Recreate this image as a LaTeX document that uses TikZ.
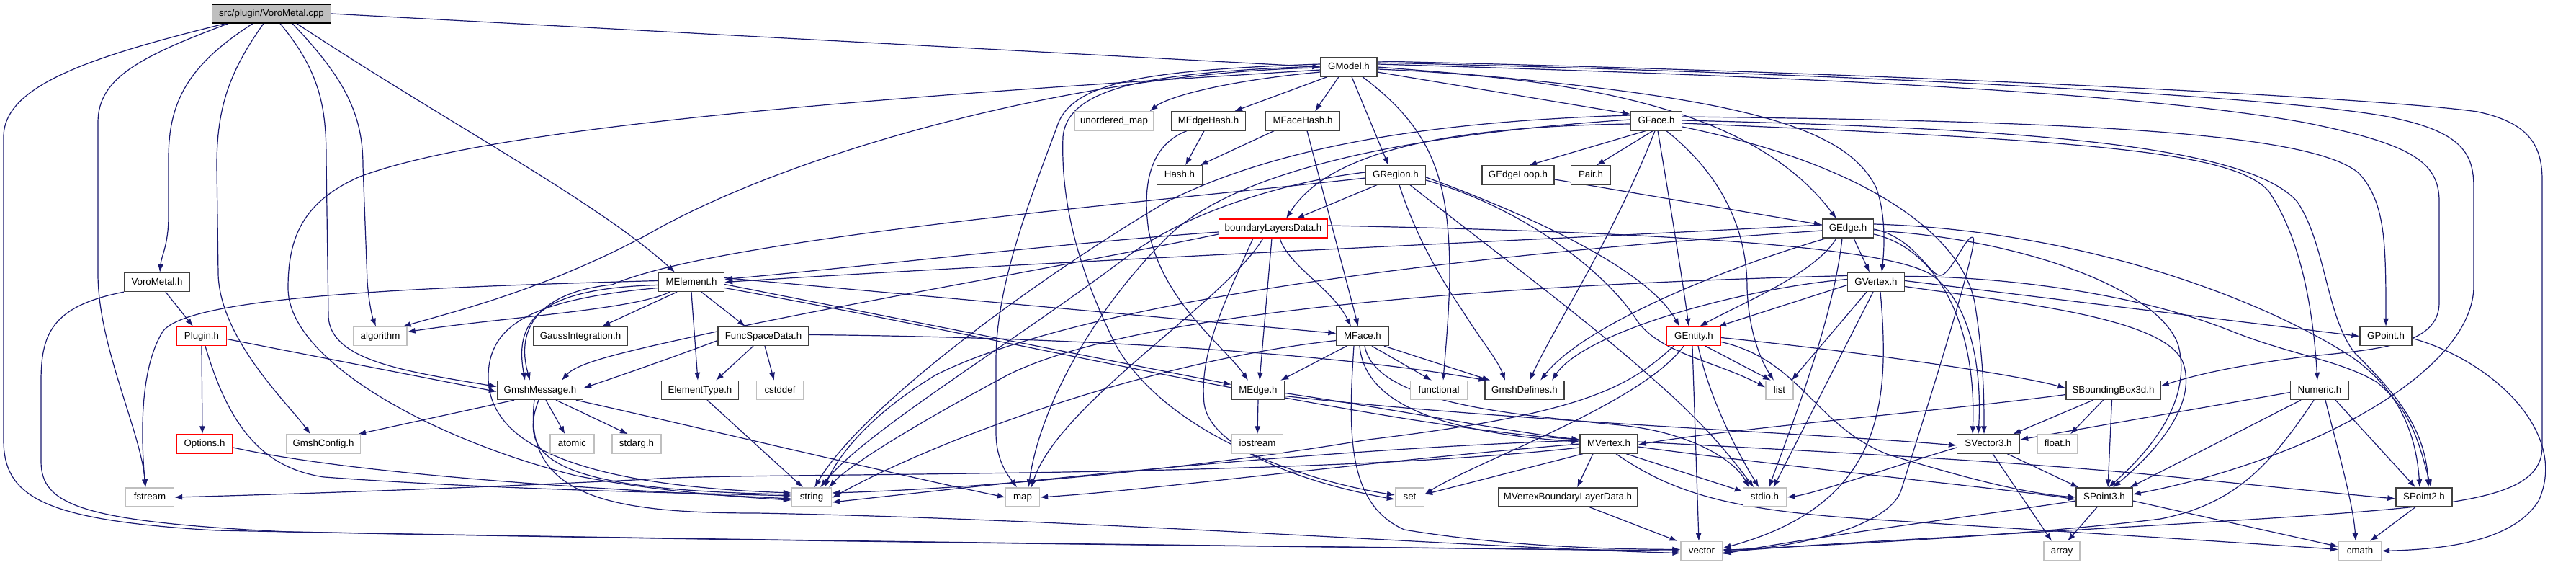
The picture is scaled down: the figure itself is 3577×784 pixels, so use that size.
\documentclass[tikz,border=0pt]{standalone}
\usepackage{fontspec}
\setmainfont{Liberation Sans}
\usetikzlibrary{arrows.meta}
\pgfdeclarelayer{bglayer}
\pgfdeclarelayer{edgelayer}
\pgfsetlayers{bglayer,edgelayer,main}
\definecolor{edgeblue}{HTML}{191970}
\definecolor{boxgray}{HTML}{BFBFBF}
\definecolor{boxdark}{HTML}{404040}
\newcommand{\Nd}[6]{\node[#1,minimum width=#5pt] (#2) at (#3,#4) {#6};}
\begin{document}
\begin{tikzpicture}[x=1pt,y=-1pt,
  box/.style={draw=boxdark,line width=1.3pt,fill=white,inner sep=0pt,minimum height=26pt,text height=9.8pt,text depth=2.8pt,font=\fontsize{13.3pt}{15pt}\selectfont},
  nb/.style={box},
  ng/.style={box,draw=boxgray},
  nr/.style={box,draw=red},
  root/.style={box,fill=boxgray,draw=black},
  dep/.style={draw=edgeblue,line width=1.2pt,-{Latex[length=11pt,width=8pt]}}]
\useasboundingbox (0,0) rectangle (3577,784);
\begin{pgfonlayer}{bglayer}
\fill[white] (0,0) rectangle (3577,784);
\end{pgfonlayer}
% nodes
\Nd{root}{cpp}{377}{19}{165}{src/plugin/VoroMetal.cpp}
\Nd{nb}{GModel}{1873}{93}{78}{GModel.h}
\Nd{ng}{unmap}{1547}{168}{110}{unordered\_map}
\Nd{nb}{MEdgeHash}{1678}{168}{103}{MEdgeHash.h}
\Nd{nb}{MFaceHash}{1809}{168}{103}{MFaceHash.h}
\Nd{nb}{GFace}{2300}{168}{71}{GFace.h}
\Nd{nb}{Hash}{1638}{243}{63}{Hash.h}
\Nd{nb}{GRegion}{1938}{243}{83}{GRegion.h}
\Nd{nb}{GEdgeLoop}{2108}{243}{100}{GEdgeLoop.h}
\Nd{nb}{Pair}{2209}{243}{55}{Pair.h}
\Nd{nr}{bld}{1768}{317}{151}{boundaryLayersData.h}
\Nd{nb}{GEdge}{2566}{317}{71}{GEdge.h}
\Nd{nb}{VMh}{218}{391.5}{91}{VoroMetal.h}
\Nd{nb}{MElement}{960}{391.5}{91}{MElement.h}
\Nd{nb}{GVertex}{2605}{391.5}{79}{GVertex.h}
\Nd{nr}{Plugin}{280}{466.5}{69}{Plugin.h}
\Nd{ng}{algorithm}{528}{466.5}{74}{algorithm}
\Nd{nb}{Gauss}{806}{466.5}{131}{GaussIntegration.h}
\Nd{nb}{FuncSpace}{1060}{466.5}{126}{FuncSpaceData.h}
\Nd{nb}{MFace}{1892}{466.5}{72}{MFace.h}
\Nd{nr}{GEntity}{2352}{466.5}{75}{GEntity.h}
\Nd{nb}{GPoint}{3313}{466.5}{72}{GPoint.h}
\Nd{nb}{GmshMessage}{750}{541.5}{119}{GmshMessage.h}
\Nd{nb}{ElementType}{972}{541.5}{107}{ElementType.h}
\Nd{ng}{cstddef}{1083}{541.5}{65}{cstddef}
\Nd{nb}{MEdge}{1747}{541.5}{73}{MEdge.h}
\Nd{ng}{functional}{1998}{541.5}{79}{functional}
\Nd{nb}{GmshDefines}{2117}{541.5}{110}{GmshDefines.h}
\Nd{ng}{list}{2471}{541.5}{38}{list}
\Nd{nb}{SBB}{2934.5}{541.5}{131}{SBoundingBox3d.h}
\Nd{nb}{Numeric}{3221}{541.5}{81}{Numeric.h}
\Nd{nr}{Options}{284}{616}{78}{Options.h}
\Nd{ng}{GmshConfig}{449}{616}{103}{GmshConfig.h}
\Nd{ng}{atomic}{794.5}{616}{61}{atomic}
\Nd{ng}{stdarg}{884}{616}{68}{stdarg.h}
\Nd{ng}{iostream}{1746}{616}{71}{iostream}
\Nd{nb}{MVertex}{2234}{616}{80}{MVertex.h}
\Nd{nb}{SVector3}{2761}{616}{87}{SVector3.h}
\Nd{ng}{float}{2857}{616}{56}{float.h}
\Nd{ng}{fstream}{208}{690}{67}{fstream}
\Nd{ng}{string}{1127}{690}{55}{string}
\Nd{ng}{map}{1420}{690}{47}{map}
\Nd{ng}{set}{1957.5}{690}{40}{set}
\Nd{nb}{MVBLD}{2177}{690}{193}{MVertexBoundaryLayerData.h}
\Nd{ng}{stdio}{2450.5}{690}{60}{stdio.h}
\Nd{nb}{SPoint3}{2922}{690}{78}{SPoint3.h}
\Nd{nb}{SPoint2}{3366}{690}{78}{SPoint2.h}
\Nd{ng}{vector}{2363}{764.5}{58}{vector}
\Nd{ng}{array}{2863}{764.5}{50}{array}
\Nd{ng}{cmath}{3277}{764.5}{59}{cmath}
\begin{pgfonlayer}{edgelayer}
% cpp
\draw[dep] (cpp.east) -- (GModel.west);
\draw[dep] ([xshift=-64pt]cpp.south) .. controls (120,80) and (5,120) .. (5,190) -- (5,610) .. controls (5,690) and (60,722) .. (300,736) .. controls (1100,752) and (2000,760) .. (vector.west);
\draw[dep] ([xshift=-60pt]cpp.south) .. controls (190,80) and (136,110) .. (136,170) -- (136,380) .. controls (136,480) and (196,600) .. ([xshift=-6pt]fstream.north);
\draw[dep] ([xshift=-26pt]cpp.south) .. controls (262,90) and (234,140) .. (234,220) -- (234,300) .. controls (234,340) and (224,355) .. ([xshift=4pt]VMh.north);
\draw[dep] ([xshift=-11pt]cpp.south) .. controls (318,100) and (301,150) .. (301,230) -- (303,380) .. controls (305,470) and (400,560) .. ([xshift=-18pt]GmshConfig.north);
\draw[dep] ([xshift=12pt]cpp.south) .. controls (445,100) and (453,150) .. (453,220) -- (456,440) .. controls (460,500) and (560,515) .. ([yshift=5pt]GmshMessage.west);
\draw[dep] ([xshift=29pt]cpp.south) .. controls (480,110) and (504,160) .. (504,230) -- (510,390) .. controls (512,420) and (517,440) .. ([xshift=-6pt]algorithm.north);
\draw[dep] ([xshift=35pt]cpp.south) .. controls (620,170) and (830,280) .. ([xshift=-23pt]MElement.north);
% VoroMetal.h
\draw[dep] ([xshift=12pt]VMh.south) -- ([xshift=-12pt]Plugin.north);
\draw[dep] (VMh.south west) .. controls (70,425) and (57,465) .. (57,530) -- (57,640) .. controls (57,700) and (110,724) .. (400,738) .. controls (1200,754) and (2000,760) .. (vector.west);
% Plugin, Options
\draw[dep] (Plugin.south) -- ([xshift=-3pt]Options.north);
\draw[dep] ([yshift=-4pt]Plugin.east) -- ([yshift=-2pt]GmshMessage.west);
\draw[dep] ([xshift=5pt]Plugin.south) .. controls (320,600) and (370,650) .. (450,662) .. controls (700,680) and (950,684) .. ([yshift=2pt]string.west);
\draw[dep] ([yshift=-5pt]Options.east) .. controls (500,660) and (850,680) .. ([yshift=-2pt]string.west);
% GmshMessage
\draw[dep] ([xshift=-36pt]GmshMessage.south) -- ([xshift=-4pt]GmshConfig.north east);
\draw[dep] ([xshift=8pt]GmshMessage.south) -- ([xshift=-10pt]atomic.north);
\draw[dep] ([xshift=22pt]GmshMessage.south) -- ([xshift=-12pt]stdarg.north);
\draw[dep] ([xshift=50pt]GmshMessage.south) .. controls (1000,600) and (1250,660) .. (map.west);
\draw[dep] ([xshift=-2pt]GmshMessage.south) .. controls (715,640) and (780,680) .. ([yshift=4pt]string.west);
\draw[dep] ([xshift=-8pt]GmshMessage.south) .. controls (725,690) and (850,712) .. (1050,712) .. controls (1500,720) and (2050,760) .. ([yshift=-3pt]vector.west);
% MElement
\draw[dep] ([yshift=2pt]MElement.west) .. controls (600,398) and (262,410) .. (226,460) .. controls (195,510) and (195,600) .. ([xshift=-6pt]fstream.north);
\draw[dep] ([yshift=-4pt]MElement.west) .. controls (740,400) and (715,450) .. ([xshift=-21pt]GmshMessage.north);
\draw[dep] ([xshift=-30pt]MElement.south) .. controls (880,430) and (700,440) .. ([yshift=6pt]algorithm.east);
\draw[dep] ([xshift=-20pt]MElement.south) -- ([xshift=30pt]Gauss.north);
\draw[dep] ([xshift=14pt]MElement.south) -- ([xshift=-25pt]FuncSpace.north);
\draw[dep] (MElement.south) -- ([xshift=-3pt]ElementType.north);
\draw[dep] ([yshift=6pt]MElement.east) -- ([yshift=4pt]MFace.west);
\draw[dep] ([yshift=-3pt]MElement.east) -- ([yshift=8pt]MEdge.west);
\draw[dep] ([yshift=-8pt]MElement.east) .. controls (1400,470) and (1900,590) .. ([yshift=6pt]MVertex.west);
\draw[dep] ([yshift=-8pt]MElement.west) .. controls (740,415) and (680,450) .. (678,520) .. controls (676,600) and (760,672) .. ([yshift=6pt]string.west);
% GModel
\draw[dep] ([yshift=-7pt]GModel.west) .. controls (1700,112) and (1620,135) .. ([xshift=-6pt]unmap.north east);
\draw[dep] ([xshift=-30pt]GModel.south) -- ([xshift=36pt]MEdgeHash.north);
\draw[dep] ([xshift=-14pt]GModel.south) -- ([xshift=17pt]MFaceHash.north);
\draw[dep] ([xshift=4pt]GModel.south) -- ([xshift=-10pt]GRegion.north);
\draw[dep] ([xshift=19pt]GModel.south) .. controls (1990,180) and (2013,250) .. (2013,384) .. controls (2012,440) and (2006,500) .. ([xshift=6pt]functional.north);
\draw[dep] ([yshift=-7pt]GModel.east) -- ([yshift=-4pt]GFace.north west);
\draw[dep] ([yshift=-3pt]GModel.east) .. controls (2250,110) and (2450,170) .. ([xshift=-16pt]GEdge.north);
\draw[dep] (GModel.east) .. controls (2400,130) and (2560,170) .. (2605,260) .. controls (2620,300) and (2616,350) .. ([xshift=8pt]GVertex.north);
\draw[dep] ([yshift=8pt]GModel.east) .. controls (2600,100) and (3300,135) .. (3440,155) .. controls (3510,170) and (3530,200) .. (3530,250) -- (3530,620) .. controls (3530,690) and (3420,700) .. (3200,716) .. controls (2900,736) and (2500,755) .. ([yshift=-2pt]vector.east);
\draw[dep] ([yshift=6pt]GModel.east) .. controls (2700,105) and (3230,140) .. (3330,165) .. controls (3420,185) and (3435,215) .. (3435,260) -- (3435,400) .. controls (3430,520) and (3200,640) .. ([yshift=4pt]SPoint3.east);
\draw[dep] ([yshift=4pt]GModel.east) .. controls (2450,105) and (2950,125) .. (3200,170) .. controls (3350,200) and (3387,225) .. (3387,280) -- (3387,420) .. controls (3387,480) and (3300,485) .. (3200,495) .. controls (3100,508) and (3050,520) .. ([yshift=6pt]SBB.east);
\draw[dep] ([yshift=4pt]GModel.west) .. controls (1600,97) and (1488,112) .. (1468,175) .. controls (1425,290) and (1383,400) .. (1383,500) -- (1383,600) .. controls (1383,640) and (1400,660) .. ([xshift=-8pt]map.north);
\draw[dep] ([yshift=1pt]GModel.west) .. controls (1600,100) and (1482,120) .. (1476,190) .. controls (1472,300) and (1510,400) .. (1550,480) .. controls (1620,600) and (1800,665) .. ([yshift=3pt]set.west);
\draw[dep] ([yshift=-1pt]GModel.west) .. controls (1500,100) and (1100,210) .. (900,325) .. controls (760,400) and (640,430) .. ([xshift=-6pt]algorithm.north east);
\draw[dep] ([yshift=-4pt]GModel.west) .. controls (1300,130) and (700,170) .. (500,245) .. controls (420,280) and (400,330) .. (400,400) .. controls (400,500) and (600,610) .. (800,660) .. controls (900,680) and (1000,688) .. ([yshift=-4pt]string.west);
% hashes
\draw[dep] ([xshift=-6pt]MEdgeHash.south) -- ([xshift=8pt]Hash.north);
\draw[dep] ([xshift=-30pt]MEdgeHash.south) .. controls (1600,200) and (1585,250) .. (1595,320) .. controls (1615,420) and (1700,480) .. ([xshift=-14pt]MEdge.north);
\draw[dep] ([xshift=-40pt]MFaceHash.south) -- ([xshift=-4pt]Hash.north east);
\draw[dep] ([xshift=6pt]MFaceHash.south) -- ([xshift=-6pt]MFace.north);
% GFace
\draw[dep] ([xshift=-15pt]GFace.south) -- ([xshift=15pt]GEdgeLoop.north);
\draw[dep] ([xshift=-5pt]GFace.south) -- ([xshift=8pt]Pair.north);
\draw[dep] ([xshift=-2pt]GFace.south) .. controls (2240,330) and (2160,450) .. ([xshift=7pt]GmshDefines.north);
\draw[dep] ([xshift=2pt]GFace.south) .. controls (2322,300) and (2338,400) .. ([xshift=-7pt]GEntity.north);
\draw[dep] ([xshift=14pt]GFace.south) .. controls (2400,250) and (2426,330) .. (2426,400) .. controls (2428,460) and (2445,500) .. ([xshift=-8pt]list.north);
\draw[dep] ([yshift=-4pt]GFace.west) .. controls (2050,175) and (1850,200) .. ([xshift=18pt]bld.north);
\draw[dep] ([yshift=6pt]GFace.east) .. controls (2900,168) and (3210,185) .. (3275,240) .. controls (3313,280) and (3313,340) .. (GPoint.north);
\draw[dep] ([yshift=1pt]GFace.east) .. controls (2800,178) and (3120,200) .. (3190,280) .. controls (3230,340) and (3230,440) .. (3270,490) .. controls (3320,540) and (3368,590) .. ([xshift=6pt]SPoint2.north);
\draw[dep] ([yshift=-3pt]GFace.east) .. controls (2900,195) and (3100,210) .. (3150,265) .. controls (3195,330) and (3212,430) .. ([xshift=-3pt]Numeric.north);
\draw[dep] ([yshift=8pt]GFace.west) .. controls (2000,168) and (1780,200) .. (1620,280) .. controls (1450,380) and (1200,560) .. ([xshift=4pt]string.north);
\draw[dep] ([yshift=-8pt]GFace.east) .. controls (2600,230) and (2725,330) .. (2742,420) .. controls (2755,500) and (2755,560) .. ([xshift=-6pt]SVector3.north);
\draw[dep] ([yshift=2pt]GFace.west) .. controls (1900,190) and (1700,250) .. (1620,330) .. controls (1520,430) and (1445,560) .. ([xshift=8pt]map.north);
% GRegion
\draw[dep] ([xshift=-26pt]GRegion.south) -- ([xshift=32pt]bld.north);
\draw[dep] ([yshift=-3pt]GRegion.east) .. controls (2060,275) and (2280,360) .. ([xshift=-20pt]GEntity.north);
\draw[dep] ([xshift=5pt]GRegion.south) .. controls (1970,340) and (2010,400) .. (2030,430) .. controls (2055,470) and (2080,500) .. ([xshift=-27pt]GmshDefines.north);
\draw[dep] ([xshift=20pt]GRegion.south) .. controls (2050,330) and (2200,440) .. (2300,530) .. controls (2380,600) and (2415,650) .. ([xshift=-15pt]stdio.north);
\draw[dep] ([yshift=-7pt]GRegion.east) .. controls (2120,290) and (2230,380) .. (2270,440) .. controls (2300,490) and (2380,500) .. ([yshift=4pt]list.west);
\draw[dep] ([yshift=4pt]GRegion.west) .. controls (1800,250) and (1650,290) .. (1560,360) .. controls (1400,480) and (1200,600) .. ([xshift=12pt]string.north);
\draw[dep] ([yshift=-4pt]GRegion.west) .. controls (1600,280) and (1000,330) .. (850,395) .. controls (750,405) and (715,455) .. ([xshift=-14pt]GmshMessage.north);
% boundaryLayersData
\draw[dep] ([yshift=-5pt]bld.west) .. controls (1500,335) and (1200,370) .. ([yshift=4pt]MElement.east);
\draw[dep] ([xshift=9pt]bld.south) .. controls (1790,370) and (1850,400) .. ([xshift=-16pt]MFace.north);
\draw[dep] ([xshift=-2pt]bld.south) -- ([xshift=2pt]MEdge.north);
\draw[dep] ([xshift=-14pt]bld.south) .. controls (1700,420) and (1470,560) .. ([xshift=12pt]map.north);
\draw[dep] ([xshift=-28pt]bld.south) .. controls (1700,420) and (1665,490) .. (1672,560) .. controls (1680,620) and (1800,668) .. ([yshift=-3pt]set.west);
\draw[dep] ([yshift=-8pt]bld.west) .. controls (1450,375) and (1150,425) .. (950,470) .. controls (850,492) and (800,505) .. ([xshift=30pt]GmshMessage.north);
\draw[dep] ([yshift=4pt]bld.east) .. controls (2200,320) and (2600,335) .. (2680,380) .. controls (2740,420) and (2752,520) .. ([xshift=-14pt]SVector3.north);
% GEdgeLoop
\draw[dep] ([yshift=-6pt]GEdgeLoop.east) -- ([yshift=5pt]GEdge.west);
% GEdge
\draw[dep] ([xshift=8pt]GEdge.south) -- ([xshift=-9pt]GVertex.north);
\draw[dep] ([xshift=-16pt]GEdge.south) .. controls (2520,380) and (2420,420) .. ([xshift=8pt]GEntity.north);
\draw[dep] ([xshift=-30pt]GEdge.south) .. controls (2400,370) and (2200,450) .. ([xshift=22pt]GmshDefines.north);
\draw[dep] ([xshift=-8pt]GEdge.south) .. controls (2545,450) and (2480,610) .. ([xshift=6pt]stdio.north);
\draw[dep] ([yshift=5pt]GEdge.west) .. controls (2200,330) and (1500,360) .. (MElement.east);
\draw[dep] ([yshift=-3pt]GEdge.west) .. controls (2000,355) and (1500,420) .. (1300,520) .. controls (1200,580) and (1160,640) .. ([xshift=18pt]string.north);
\draw[dep] ([yshift=-8pt]GEdge.east) .. controls (2690,345) and (2745,450) .. ([xshift=-22pt]SVector3.north);
\draw[dep] ([yshift=-3pt]GEdge.east) .. controls (2800,330) and (3000,400) .. (3025,480) .. controls (3045,560) and (2980,630) .. ([xshift=6pt]SPoint3.north);
\draw[dep] ([yshift=6pt]GEdge.east) .. controls (2900,320) and (3150,420) .. (3265,495) .. controls (3330,540) and (3355,600) .. ([xshift=-6pt]SPoint2.north);
\draw[dep] ([yshift=-1pt]GEdge.east) .. controls (2660,330) and (2680,385) .. (2695,382) .. controls (2710,380) and (2732,322) .. (2740,330) .. controls (2748,340) and (2665,600) .. (2640,680) .. controls (2620,740) and (2450,765) .. ([yshift=2pt]vector.east);
% GVertex
\draw[dep] ([yshift=-4pt]GVertex.west) -- ([xshift=-4pt]GEntity.north east);
\draw[dep] ([yshift=4pt]GVertex.west) .. controls (2420,400) and (2200,460) .. ([xshift=38pt]GmshDefines.north);
\draw[dep] ([yshift=9pt]GVertex.west) .. controls (2200,392) and (1600,420) .. (1400,520) .. controls (1250,600) and (1175,650) .. ([xshift=24pt]string.north);
\draw[dep] ([xshift=-13pt]GVertex.south) -- ([xshift=-3pt]list.north east);
\draw[dep] ([xshift=-4pt]GVertex.south) -- ([xshift=12pt]stdio.north);
\draw[dep] ([xshift=6pt]GVertex.south) .. controls (2625,560) and (2615,700) .. ([yshift=4pt]vector.east);
\draw[dep] ([yshift=2pt]GVertex.east) -- (GPoint.west);
\draw[dep] ([yshift=8pt]GVertex.east) .. controls (2750,383) and (2950,400) .. (3100,460) .. controls (3180,492) and (3250,500) .. (3300,530) .. controls (3350,570) and (3360,620) .. ([xshift=10pt]SPoint2.north);
\draw[dep] ([yshift=-6pt]GVertex.east) .. controls (2800,420) and (3000,440) .. (3030,500) .. controls (3055,560) and (2990,630) .. ([xshift=12pt]SPoint3.north);
% GEntity
\draw[dep] ([xshift=16pt]GEntity.south) -- ([xshift=-12pt]list.north);
\draw[dep] ([xshift=6pt]GEntity.south) .. controls (2375,560) and (2420,640) .. ([xshift=-8pt]stdio.north);
\draw[dep] ([xshift=-2pt]GEntity.south) -- ([xshift=-4pt]vector.north);
\draw[dep] ([xshift=-14pt]GEntity.south) .. controls (2280,560) and (2050,640) .. ([yshift=4pt]set.east);
\draw[dep] ([xshift=-28pt]GEntity.south) .. controls (2260,540) and (2190,575) .. (1900,610) .. controls (1600,660) and (1300,680) .. ([yshift=6pt]string.east);
\draw[dep] ([yshift=-2pt]GEntity.east) .. controls (2600,490) and (2800,520) .. ([yshift=3pt]SBB.west);
\draw[dep] ([yshift=-8pt]GEntity.east) .. controls (2500,500) and (2520,590) .. (2620,630) .. controls (2750,670) and (2820,685) .. (SPoint3.west);
% MFace
\draw[dep] ([xshift=-22pt]MFace.south) -- ([xshift=-6pt]MEdge.north east);
\draw[dep] ([xshift=-12pt]MFace.south) .. controls (1872,600) and (1870,700) .. (1950,735) .. controls (2100,760) and (2250,762) .. ([yshift=2pt]vector.west);
\draw[dep] ([xshift=-4pt]MFace.south) .. controls (1895,560) and (2000,600) .. ([yshift=3pt]MVertex.west);
\draw[dep] ([xshift=3pt]MFace.south) .. controls (1910,560) and (2100,575) .. (2250,590) .. controls (2350,600) and (2410,640) .. ([xshift=-22pt]stdio.north);
\draw[dep] ([xshift=13pt]MFace.south) -- ([xshift=-10pt]functional.north);
\draw[dep] ([xshift=30pt]MFace.south) -- ([xshift=8pt]GmshDefines.north west);
\draw[dep] ([yshift=-6pt]MFace.west) .. controls (1600,500) and (1300,610) .. ([yshift=-1pt]string.east);
% MEdge
\draw[dep] (MEdge.south) -- (iostream.north);
\draw[dep] ([yshift=-4pt]MEdge.east) .. controls (1950,570) and (2100,600) .. ([yshift=6pt]MVertex.west);
\draw[dep] ([yshift=-8pt]MEdge.east) .. controls (2100,585) and (2500,600) .. ([yshift=-2pt]SVector3.west);
% MVertex
\draw[dep] ([xshift=-36pt]MVertex.south) -- ([yshift=4pt]set.east);
\draw[dep] ([xshift=-22pt]MVertex.south) -- ([xshift=13pt]MVBLD.north);
\draw[dep] ([xshift=24pt]MVertex.south) -- ([yshift=8pt]stdio.west);
\draw[dep] ([xshift=10pt]MVertex.south) .. controls (2330,690) and (2420,710) .. (2620,722) .. controls (2900,740) and (3100,752) .. ([yshift=2pt]cmath.west);
\draw[dep] ([yshift=-4pt]MVertex.east) .. controls (2500,650) and (2800,680) .. ([yshift=-3pt]SPoint3.west);
\draw[dep] ([yshift=3pt]MVertex.east) .. controls (2500,625) and (2800,640) .. (3000,660) .. controls (3200,680) and (3280,688) .. ([yshift=-2pt]SPoint2.west);
\draw[dep] ([yshift=5pt]MVertex.west) .. controls (1800,625) and (1400,670) .. ([yshift=-7pt]string.east);
\draw[dep] (MVertex.west) .. controls (1900,640) and (1600,680) .. (map.east);
\draw[dep] ([yshift=-5pt]MVertex.west) .. controls (1800,665) and (1000,655) .. (900,665) .. controls (600,680) and (320,688) .. (fstream.east);
% SBoundingBox3d
\draw[dep] ([xshift=-28pt]SBB.south) -- ([xshift=-10pt]SVector3.north east);
\draw[dep] ([xshift=-14pt]SBB.south) -- ([xshift=18pt]float.north);
\draw[dep] ([xshift=-2pt]SBB.south) -- ([xshift=5pt]SPoint3.north);
\draw[dep] ([yshift=-6pt]SBB.west) .. controls (2700,570) and (2400,595) .. ([yshift=-1pt]MVertex.east);
% Numeric
\draw[dep] ([yshift=-3pt]Numeric.west) -- ([yshift=6pt]SVector3.east);
\draw[dep] ([xshift=-26pt]Numeric.south) -- ([xshift=-4pt]SPoint3.north east);
\draw[dep] ([xshift=-8pt]Numeric.south) .. controls (3150,650) and (3100,700) .. (3000,720) .. controls (2800,745) and (2500,758) .. ([yshift=1pt]vector.east);
\draw[dep] ([xshift=8pt]Numeric.south) .. controls (3245,620) and (3268,700) .. ([xshift=-6pt]cmath.north);
\draw[dep] ([xshift=22pt]Numeric.south) -- ([xshift=-12pt]SPoint2.north);
% GPoint
\draw[dep] ([yshift=-3pt]GPoint.east) .. controls (3460,500) and (3568,600) .. (3525,695) .. controls (3490,750) and (3400,762) .. (cmath.east);
% SVector3
\draw[dep] ([xshift=-18pt]SVector3.south east) -- ([xshift=4pt]SPoint3.north west);
\draw[dep] ([xshift=6pt]SVector3.south) -- ([xshift=-14pt]array.north);
\draw[dep] ([yshift=-5pt]SVector3.west) .. controls (2620,650) and (2520,685) .. (stdio.east);
% SPoint3, SPoint2
\draw[dep] ([xshift=-10pt]SPoint3.south) -- ([xshift=8pt]array.north);
\draw[dep] ([yshift=-5pt]SPoint3.east) -- ([yshift=6pt]cmath.west);
\draw[dep] ([yshift=-5pt]SPoint3.west) .. controls (2750,715) and (2550,740) .. ([yshift=-4pt]vector.east);
\draw[dep] ([xshift=-12pt]SPoint2.south) -- ([xshift=14pt]cmath.north);
% FuncSpaceData, ElementType, MVBLD
\draw[dep] ([xshift=-14pt]FuncSpace.south) -- ([xshift=22pt]ElementType.north);
\draw[dep] ([xshift=2pt]FuncSpace.south) -- ([xshift=-8pt]cstddef.north);
\draw[dep] ([yshift=-6pt]FuncSpace.west) .. controls (950,490) and (880,515) .. ([yshift=3pt]GmshMessage.east);
\draw[dep] ([yshift=2pt]FuncSpace.east) .. controls (1500,468) and (1850,490) .. ([xshift=3pt]GmshDefines.north west);
\draw[dep] ([xshift=10pt]ElementType.south) -- ([xshift=-12pt]string.north);
\draw[dep] ([xshift=30pt]MVBLD.south) -- ([xshift=-4pt]vector.north west);
\end{pgfonlayer}
\end{tikzpicture}
\end{document}
